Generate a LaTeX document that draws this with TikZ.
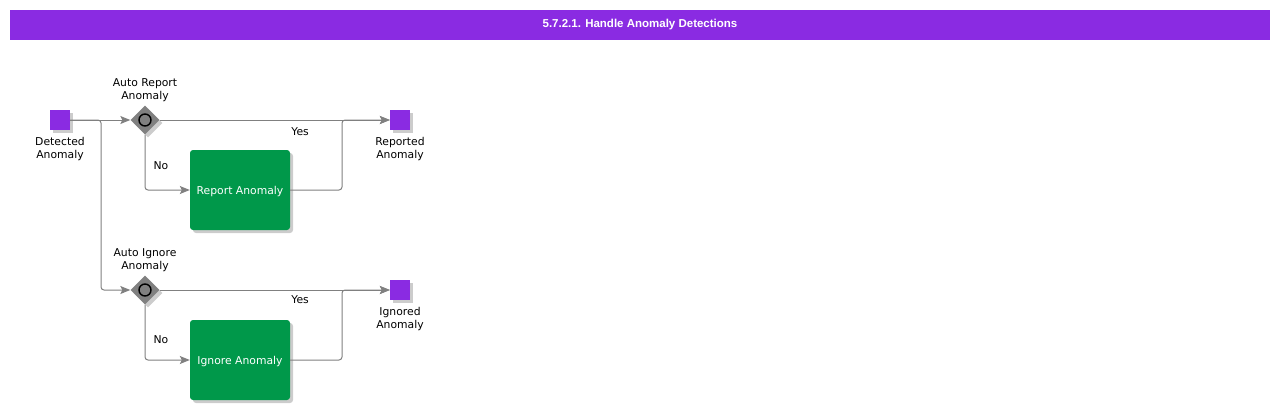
\documentclass[tikz,border=0pt]{standalone}
\usepackage{fontspec}
\setmainfont{DejaVu Sans}
\newfontfamily\titlefont{Liberation Sans}
\usetikzlibrary{arrows.meta, positioning, shapes.geometric, shadows}
\definecolor{evpurple}{HTML}{8A2BE2}
\definecolor{taskgreen}{HTML}{00984A}
\definecolor{linegray}{HTML}{808080}

\begin{document}
\begin{tikzpicture}[x=1pt, y=-1pt, node distance=3pt, >={Stealth[length=10pt,width=8pt,inset=2pt]},
        every node/.style={font=\fontsize{10.8}{13}\selectfont, align=center},
        shade/.style={drop shadow={shadow xshift=3pt, shadow yshift=-3pt, opacity=0.2, fill=black}},
        titlebar/.style={fill=evpurple, text=white, minimum width=1260, minimum height=30, inner sep=0, font=\titlefont\bfseries\fontsize{11.5}{13}\selectfont},
        event/.style={fill=evpurple, minimum size=20, inner sep=0, shade},
        gateway/.style={diamond, fill=linegray, minimum width=29, minimum height=29, inner sep=0, shade},
        marker/.style={circle, draw=black, line width=1.4pt, fill=linegray, minimum size=12, inner sep=0},
        task/.style={fill=taskgreen, text=white, rounded corners=3pt, minimum width=100, minimum height=80, inner sep=0, text depth=-2pt, shade},
        tag/.style={inner sep=0},
        flow/.style={draw=linegray, line width=1pt, rounded corners=3pt}]
        \useasboundingbox (0,0) rectangle (1280,410);

        \node[titlebar] (title) at (640,25) {5.7.2.1. Handle Anomaly Detections};

        % report branch
        \node[event] (detected) at (60,120) {};
        \node[tag, below=7pt of detected] (detectedtag) {Detected\\Anomaly};
        \node[gateway] (autoreport) at (145,120) {};
        \node[marker] (autoreportmark) at (autoreport) {};
        \node[tag, above=3pt of autoreport] (autoreporttag) {Auto Report\\Anomaly};
        \node[task] (report) at (240,190) {Report Anomaly};
        \node[event] (reported) at (400,120) {};
        \node[tag, below=7pt of reported] (reportedtag) {Reported\\Anomaly};

        % ignore branch
        \node[gateway] (autoignore) at (145,290) {};
        \node[marker] (autoignoremark) at (autoignore) {};
        \node[tag, above=3pt of autoignore] (autoignoretag) {Auto Ignore\\Anomaly};
        \node[task] (ignore) at (240,360) {Ignore Anomaly};
        \node[event] (ignored) at (400,290) {};
        \node[tag, below=7pt of ignored] (ignoredtag) {Ignored\\Anomaly};

        \coordinate (split) at (101,120);
        \coordinate (joinreport) at (342,120);
        \coordinate (joinignore) at (342,290);

        \draw[flow,->] (detected.east) -- (autoreport.west);
        \draw[flow,->] (detected.east) -- (split) |- (autoignore.west);

        \draw[flow,->] (autoreport.east) -- node[tag, pos=.61, below=7pt] {Yes} (reported.west);
        \draw[flow,->] (autoreport.south) |- node[tag, pos=.28, right=8pt] {No} (report.west);
        \draw[flow,->] (report.east) -| (joinreport) -- (reported.west);

        \draw[flow,->] (autoignore.east) -- node[tag, pos=.61, below=5pt] {Yes} (ignored.west);
        \draw[flow,->] (autoignore.south) |- node[tag, pos=.32, right=8pt] {No} (ignore.west);
        \draw[flow,->] (ignore.east) -| (joinignore) -- (ignored.west);
    \end{tikzpicture}
\end{document}
